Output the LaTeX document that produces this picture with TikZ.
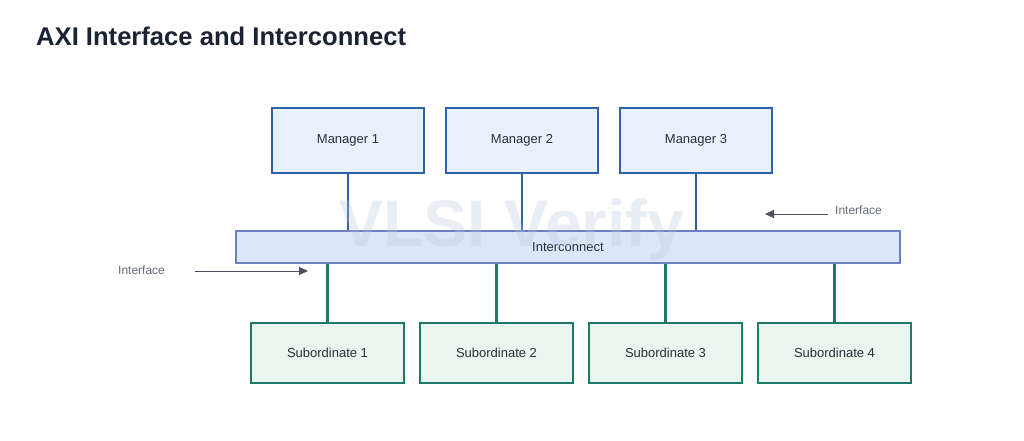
\documentclass[tikz,border=0pt]{standalone}
\usepackage{fontspec}
\setmainfont{Liberation Sans}
\usetikzlibrary{arrows.meta}
\definecolor{mgrborder}{HTML}{2D62A8}
\definecolor{mgrfill}{HTML}{E9F2FC}
\definecolor{icborder}{HTML}{6E7FC2}
\definecolor{icfill}{HTML}{DCE6FB}
\definecolor{subborder}{HTML}{1E7A68}
\definecolor{subfill}{HTML}{E9F5EE}
\definecolor{arrowgray}{HTML}{4A5160}
\definecolor{txt}{HTML}{2A2F3A}
\definecolor{titlecol}{HTML}{1B2232}
\definecolor{wm}{HTML}{B8C6DC}
\begin{document}
\begin{tikzpicture}[x=1pt,y=-1pt,
  mgr/.style={draw=mgrborder,fill=mgrfill,line width=2pt,minimum width=152pt,minimum height=65pt,inner sep=0pt,font=\fontsize{13}{15}\selectfont,text=txt},
  sub/.style={draw=subborder,fill=subfill,line width=2pt,minimum width=153pt,minimum height=60pt,inner sep=0pt,font=\fontsize{13}{15}\selectfont,text=txt},
  mlink/.style={draw=mgrborder,line width=2.5pt},
  slink/.style={draw=subborder,line width=2.5pt},
  iface/.style={draw=arrowgray,line width=1pt,-{Triangle[length=9pt,width=8pt]}},
  lbl/.style={font=\fontsize{12}{14}\selectfont,text=arrowgray!85!white,inner sep=0pt}]
\useasboundingbox (0,0) rectangle (1024,440);
\fill[white] (0,0) rectangle (1024,440);
\node[anchor=base west,inner sep=0pt,font=\fontsize{25.6}{30}\selectfont\bfseries,text=titlecol] (title) at (36,45) {AXI Interface and Interconnect};
% managers
\node[mgr] (m1) at (348,140.5) {Manager 1};
\node[mgr] (m2) at (522,140.5) {Manager 2};
\node[mgr] (m3) at (696,140.5) {Manager 3};
% interconnect
\node[draw=icborder,fill=icfill,line width=1.5pt,minimum width=664pt,minimum height=32pt,inner sep=0pt,font=\fontsize{13}{15}\selectfont,text=txt] (ic) at (568,247) {Interconnect};
% subordinates
\node[sub] (s1) at (327.5,353) {Subordinate 1};
\node[sub] (s2) at (496.5,353) {Subordinate 2};
\node[sub] (s3) at (665.5,353) {Subordinate 3};
\node[sub] (s4) at (834.5,353) {Subordinate 4};
% links
\draw[mlink] (m1.south) -- (m1.south |- ic.north);
\draw[mlink] (m2.south) -- (m2.south |- ic.north);
\draw[mlink] (m3.south) -- (m3.south |- ic.north);
\draw[slink] (s1.north) -- (s1.north |- ic.south);
\draw[slink] (s2.north) -- (s2.north |- ic.south);
\draw[slink] (s3.north) -- (s3.north |- ic.south);
\draw[slink] (s4.north) -- (s4.north |- ic.south);
% watermark
\node[inner sep=0pt,font=\fontsize{66}{70}\selectfont\bfseries,text=wm,text opacity=0.3] (wmark) at (512,229) {VLSI Verify};
% interface labels
\node[lbl,anchor=west] (il) at (118,270) {Interface};
\coordinate (ilA) at (195,271);
\coordinate (ilB) at (308,271);
\draw[iface] (ilA) -- (ilB);
\node[lbl,anchor=west] (ir) at (835,210) {Interface};
\coordinate (irA) at (828,214);
\coordinate (irB) at (765,214);
\draw[iface] (irA) -- (irB);
\end{tikzpicture}
\end{document}
